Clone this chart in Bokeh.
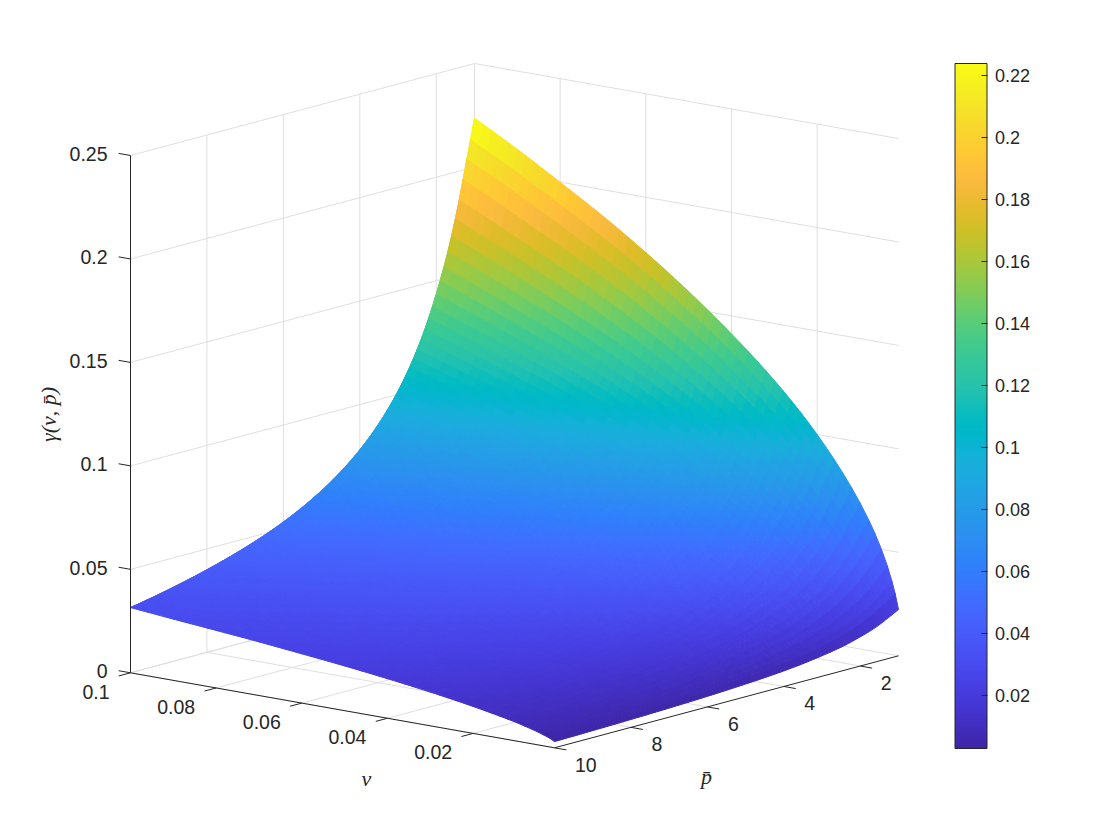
import numpy as np
from bokeh.plotting import figure
from bokeh.models import (ColorBar, LinearColorMapper, FixedTicker, Range1d)
from bokeh.core.properties import value
from bokeh.embed import file_html
from bokeh.resources import INLINE

# ---------- data ----------
nu_nodes = [.001, .002, .003, .005, .0075, .01, .015, .02, .03, .04, .05, .06, .07, .08, .09, .1]
p_nodes = [1, 1.25, 1.5, 1.75, 2, 2.5, 3, 4, 5, 6, 8, 10]
gamma_p1_00 = [.0224, .0315, .0387, .0501, .0613, .0707, .0865, .1000, .1225, .1413, .1581, .1733, .1872, .1999, .2122, .2236]
gamma_p1_25 = [.0199, .0280, .0343, .0443, .0542, .0626, .0767, .0887, .1090, .1259, .1410, .1547, .1671, .1786, .1896, .2000]
gamma_p1_50 = [.0175, .0247, .0302, .0389, .0477, .0551, .0676, .0782, .0962, .1112, .1247, .1368, .1479, .1581, .1680, .1773]
gamma_p1_75 = [.0156, .0219, .0268, .0346, .0424, .0490, .0601, .0696, .0858, .0993, .1114, .1223, .1323, .1414, .1503, .1587]
gamma_p2_00 = [.0141, .0197, .0241, .0310, .0380, .0440, .0540, .0626, .0772, .0895, .1004, .1104, .1194, .1277, .1357, .1434]
gamma_p2_50 = [.0116, .0163, .0198, .0255, .0313, .0362, .0445, .0516, .0638, .0740, .0832, .0914, .0990, .1059, .1126, .1191]
gamma_p3_00 = [.0099, .0138, .0168, .0215, .0264, .0306, .0376, .0437, .0541, .0628, .0707, .0778, .0842, .0902, .0959, .1015]
gamma_p4_00 = [.0075, .0105, .0128, .0163, .0200, .0233, .0286, .0333, .0413, .0481, .0542, .0597, .0647, .0693, .0737, .0781]
gamma_p5_00 = [.0061, .0084, .0102, .0131, .0161, .0187, .0230, .0268, .0333, .0388, .0438, .0483, .0523, .0561, .0597, .0633]
gamma_p6_00 = [.0051, .0070, .0085, .0109, .0133, .0155, .0191, .0223, .0278, .0324, .0366, .0404, .0438, .0470, .0501, .0531]
gamma_p8_00 = [.0038, .0052, .0063, .0080, .0099, .0115, .0142, .0166, .0207, .0242, .0274, .0303, .0329, .0352, .0376, .0399]
gamma_p10_0 = [.0030, .0041, .0049, .0063, .0077, .0090, .0111, .0130, .0163, .0191, .0216, .0238, .0259, .0278, .0296, .0315]

nu_ticks = [.08, .06, .04, .02]
nu_tick_labels = ["0.08", "0.06", "0.04", "0.02"]
p_ticks = [2, 4, 6, 8, 10]
p_tick_labels = ["2", "4", "6", "8", "10"]
z_ticks = [0, .05, .1, .15, .2, .25]
z_tick_labels = ["0", "0.05", "0.1", "0.15", "0.2", "0.25"]
cb_ticks = [.02, .04, .06, .08, .1, .12, .14, .16, .18, .2, .22]
cb_tick_labels = ["0.02", "0.04", "0.06", "0.08", "0.1", "0.12", "0.14", "0.16", "0.18", "0.2", "0.22"]

parula = [
 (.2422,.1504,.6603),(.2504,.1650,.7076),(.2578,.1818,.7511),(.2647,.1978,.7952),(.2706,.2147,.8364),
 (.2751,.2342,.8710),(.2783,.2559,.8991),(.2803,.2782,.9221),(.2813,.3006,.9414),(.2810,.3228,.9579),
 (.2795,.3447,.9717),(.2760,.3667,.9829),(.2699,.3892,.9906),(.2602,.4123,.9952),(.2440,.4358,.9988),
 (.2206,.4603,.9973),(.1963,.4847,.9892),(.1834,.5074,.9798),(.1786,.5289,.9682),(.1764,.5499,.9520),
 (.1687,.5703,.9359),(.1540,.5902,.9218),(.1460,.6091,.9079),(.1380,.6276,.8973),(.1248,.6459,.8883),
 (.1113,.6635,.8763),(.0952,.6798,.8598),(.0689,.6948,.8394),(.0297,.7082,.8163),(.0036,.7203,.7917),
 (.0067,.7312,.7660),(.0433,.7411,.7394),(.0964,.7500,.7120),(.1408,.7584,.6842),(.1717,.7670,.6554),
 (.1938,.7758,.6251),(.2161,.7843,.5923),(.2470,.7918,.5567),(.2906,.7973,.5188),(.3406,.8008,.4789),
 (.3909,.8029,.4354),(.4456,.8024,.3909),(.5044,.7993,.3480),(.5616,.7942,.3045),(.6174,.7876,.2612),
 (.6720,.7793,.2227),(.7242,.7698,.1910),(.7738,.7598,.1646),(.8203,.7498,.1535),(.8634,.7406,.1596),
 (.9035,.7330,.1774),(.9393,.7288,.2100),(.9728,.7298,.2394),(.9956,.7434,.2371),(.9970,.7659,.2199),
 (.9952,.7893,.2028),(.9892,.8136,.1885),(.9786,.8386,.1766),(.9676,.8639,.1643),(.9610,.8890,.1537),
 (.9597,.9135,.1423),(.9628,.9373,.1265),(.9691,.9606,.1064),(.9769,.9839,.0805)]

# ---------- limits and camera ----------
NU_MIN, NU_MAX = .001, .1
P_MIN, P_MAX = 1.0, 10.0
Z_MAX = .25
C_LOW, C_HIGH = .0029, .2238
ORIGIN = (130.0, 672.3)
U_AXIS = (424.0, 75.0)     # along nu, from 0.1 to the minimum
V_AXIS = (344.0, -92.0)    # along p, from 10 to 1
W_AXIS = (0.0, -517.3)     # along gamma, from 0 to 0.25
TICK_U = .028
TICK_V = .034
INK = "#262626"
GRID = "#dfdfdf"
FONT = "Liberation Sans"

def project(nu, pb, g):
    nu, pb, g = np.asarray(nu, float), np.asarray(pb, float), np.asarray(g, float)
    u = (NU_MAX - nu) / (NU_MAX - NU_MIN)
    v = (P_MAX - pb) / (P_MAX - P_MIN)
    w = g / Z_MAX
    return (ORIGIN[0] + u * U_AXIS[0] + v * V_AXIS[0] + w * W_AXIS[0],
            ORIGIN[1] + u * U_AXIS[1] + v * V_AXIS[1] + w * W_AXIS[1])

def hermite(xq, x, y):
    x, y = np.asarray(x, float), np.asarray(y, float)
    m = np.gradient(y, x)
    i = np.clip(np.searchsorted(x, xq) - 1, 0, len(x) - 2)
    h = x[i + 1] - x[i]
    t = (xq - x[i]) / h
    return ((2*t**3 - 3*t**2 + 1) * y[i] + (t**3 - 2*t**2 + t) * h * m[i]
            + (-2*t**3 + 3*t**2) * y[i + 1] + (t**3 - t**2) * h * m[i + 1])

# ---------- surface: facets in the reference's mesh, shaded from the table ----------
table = np.array([gamma_p1_00, gamma_p1_25, gamma_p1_50, gamma_p1_75, gamma_p2_00, gamma_p2_50,
                  gamma_p3_00, gamma_p4_00, gamma_p5_00, gamma_p6_00, gamma_p8_00, gamma_p10_0])
mesh_nu = np.concatenate(([NU_MIN, .0018, .0025, .0036, .005, .0065, .008], np.arange(.01, NU_MAX, .002), [NU_MAX]))
mesh_p = np.linspace(P_MIN, P_MAX, 91)
log_nu, log_p = np.log(nu_nodes), np.log(p_nodes)
across = np.array([hermite(np.log(mesh_nu), log_nu, np.log(row)) for row in table])
surface = np.exp(np.array([hermite(np.log(mesh_p), log_p, across[:, j]) for j in range(len(mesh_nu))]).T)

stops = np.array(parula)
t64 = np.linspace(0, 1, len(parula))
t256 = np.linspace(0, 1, 256)
pal = ["#%02x%02x%02x" % tuple(int(round(255 * np.interp(t, t64, stops[:, c]))) for c in range(3)) for t in t256]

xs, ys, cols = [], [], []
NUG, PG = np.meshgrid(mesh_nu, mesh_p)
SX, SY = project(NUG, PG, surface)
for i in range(len(mesh_p) - 1):
    for j in range(len(mesh_nu) - 2, -1, -1):
        xs.append([SX[i, j], SX[i, j + 1], SX[i + 1, j + 1], SX[i + 1, j]])
        ys.append([SY[i, j], SY[i, j + 1], SY[i + 1, j + 1], SY[i + 1, j]])
        k = int(np.clip((surface[i, j] - C_LOW) / (C_HIGH - C_LOW) * 256, 0, 255))
        cols.append(pal[k])

# ---------- figure ----------
W, H = 1100, 820
p = figure(width=W, height=H, output_backend="svg", toolbar_location=None,
           x_range=Range1d(0, W), y_range=Range1d(H, 0),
           x_axis_type=None, y_axis_type=None, min_border=0, outline_line_color=None)
p.grid.visible = False

# grid walls
gx0, gy0, gx1, gy1 = [], [], [], []
def add(a, b):
    ax, ay = project(*a)
    bx, by = project(*b)
    gx0.append(float(ax)); gy0.append(float(ay)); gx1.append(float(bx)); gy1.append(float(by))
for z in z_ticks:
    add((NU_MAX, P_MAX, z), (NU_MAX, P_MIN, z))
    add((NU_MAX, P_MIN, z), (NU_MIN, P_MIN, z))
for b in p_ticks:
    add((NU_MAX, b, 0), (NU_MAX, b, Z_MAX))
    add((NU_MAX, b, 0), (NU_MIN, b, 0))
for n in nu_ticks + [NU_MAX]:
    add((n, P_MIN, 0), (n, P_MIN, Z_MAX))
    add((n, P_MIN, 0), (n, P_MAX, 0))
p.segment(gx0, gy0, gx1, gy1, line_color=GRID, line_width=1)

p.patches(xs, ys, fill_color=cols, line_color=cols, line_width=1, line_join="bevel")

# axes and ticks
ax0, ay0, ax1, ay1 = [], [], [], []
def axseg(a, b, off=(0, 0)):
    x0, y0 = project(*a)
    x1, y1 = project(*b)
    ax0.append(float(x0)); ay0.append(float(y0)); ax1.append(float(x1) + off[0]); ay1.append(float(y1) + off[1])
axseg((NU_MAX, P_MAX, 0), (NU_MAX, P_MAX, Z_MAX))
axseg((NU_MAX, P_MAX, 0), (NU_MIN, P_MAX, 0))
axseg((NU_MIN, P_MAX, 0), (NU_MIN, P_MIN, 0))
tv = (-TICK_V * V_AXIS[0], -TICK_V * V_AXIS[1])
tu = (TICK_U * U_AXIS[0], TICK_U * U_AXIS[1])
for n in nu_ticks + [NU_MAX]:
    axseg((n, P_MAX, 0), (n, P_MAX, 0), tv)
for b in p_ticks:
    axseg((NU_MIN, b, 0), (NU_MIN, b, 0), tu)
for z in z_ticks:
    axseg((NU_MAX, P_MAX, z), (NU_MAX, P_MAX, z), (-tu[0], -tu[1]))
p.segment(ax0, ay0, ax1, ay1, line_color=INK, line_width=1)

# tick labels
FS = "19.5px"
zx, zy = project([NU_MAX] * len(z_ticks), [P_MAX] * len(z_ticks), z_ticks)
p.text(zx - 23, zy - 1.5, text=z_tick_labels, text_font=value(FONT), text_font_size=FS, text_color=INK,
       text_align="right", text_baseline="middle")
nx, ny = project(nu_ticks + [NU_MAX], [P_MAX] * 5, [0] * 5)
p.text(nx - 21, ny + 19, text=nu_tick_labels + ["0.1"], text_font=value(FONT), text_font_size=FS, text_color=INK,
       text_align="right", text_baseline="middle")
bx, by = project([NU_MIN] * len(p_ticks), p_ticks, [0] * len(p_ticks))
p.text(bx + 20.5, by + 17, text=p_tick_labels, text_font=value(FONT), text_font_size=FS, text_color=INK,
       text_align="left", text_baseline="middle")

# axis titles
TF = "Liberation Serif"
p.text([366], [778], text=["ν"], text_font=value(TF), text_font_style="italic", text_font_size="22px",
       text_color=INK, text_align="center", text_baseline="middle")
p.text([706], [776], text=["p\u0304"], text_font=value(TF), text_font_style="italic", text_font_size="22px",
       text_color=INK, text_align="center", text_baseline="middle")
p.text([48], [414], text=["γ(ν, p\u0304)"], text_font=value(TF), text_font_style="italic", text_font_size="22px",
       text_color=INK, text_align="center", text_baseline="middle", angle=np.pi / 2)

# colour bar
mapper = LinearColorMapper(palette=pal, low=C_LOW, high=C_HIGH)
cb = ColorBar(color_mapper=mapper, location=(954.5, 72), width=32, height=685, padding=0,
              ticker=FixedTicker(ticks=cb_ticks),
              major_label_overrides={t: s for t, s in zip(cb_ticks, cb_tick_labels)},
              major_label_text_font=FONT, major_label_text_font_size="18px", major_label_text_color=INK,
              major_tick_line_color=INK, major_tick_in=6, major_tick_out=0, minor_tick_line_color=None,
              bar_line_color=INK, bar_line_width=1, border_line_color=None, background_fill_color=None,
              label_standoff=8)
p.add_layout(cb, "center")

open("out.html", "w").write(file_html(p, INLINE))
